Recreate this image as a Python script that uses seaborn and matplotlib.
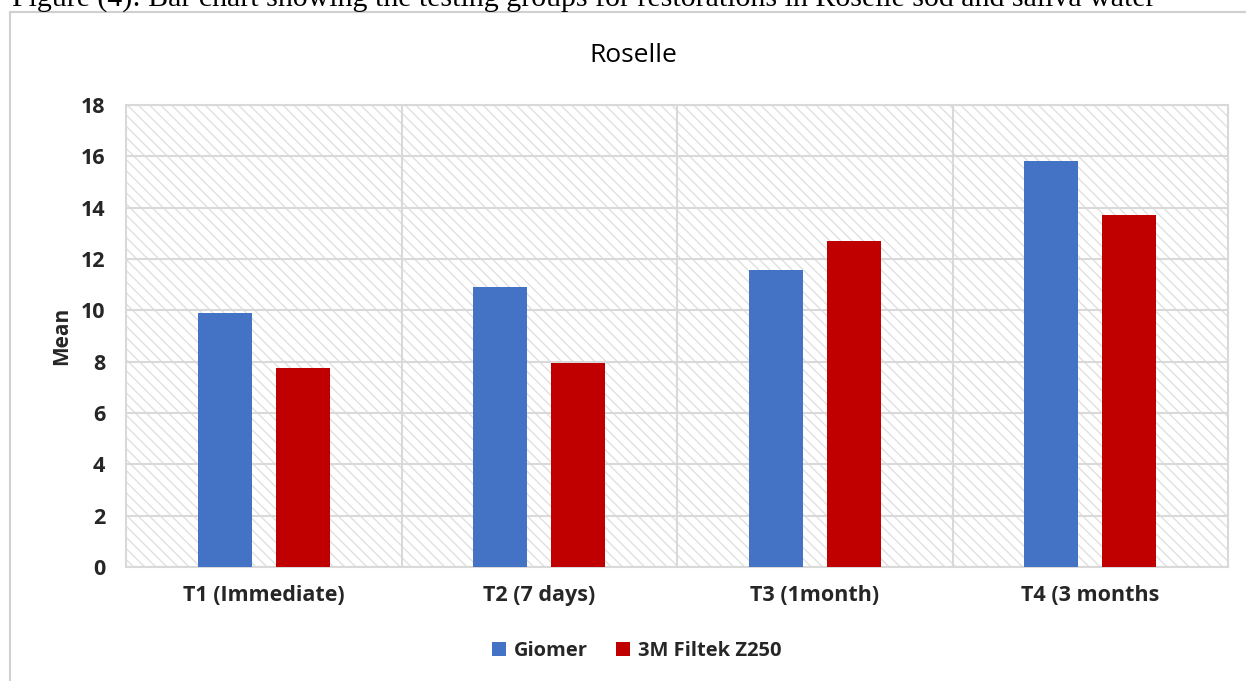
import matplotlib
matplotlib.use("Agg")
import matplotlib.pyplot as plt
from matplotlib.patches import Rectangle
import seaborn as sns
import pandas as pd

# Mean values per storage time for each restorative material (Roselle)
periods = ["T1 (Immediate)", "T2 (7 days)", "T3 (1month)", "T4 (3 months"]
materials = ["Giomer", "3M Filtek Z250"]
giomer = [9.9, 10.9, 11.57, 15.82]
filtek = [7.75, 7.95, 12.7, 13.71]
yticks = [0, 2, 4, 6, 8, 10, 12, 14, 16, 18]
caption = ("Figure (4): Bar chart showing the testing groups for restorations "
           "in Roselle sod and saliva water")

colors = {"Giomer": "#4472C4", "3M Filtek Z250": "#C00000"}
grid_col = "#d9d9d9"

df = pd.DataFrame({
    "period": periods * 2,
    "material": [materials[0]] * 4 + [materials[1]] * 4,
    "mean": giomer + filtek,
})

sns.set_theme(style="white")
plt.rcParams["font.family"] = ["Open Sans", "DejaVu Sans"]

fig = plt.figure(figsize=(12.46, 6.81), dpi=100)

# outer chart frame (runs off the right and bottom edges)
fig.patches.append(Rectangle((10 / 1246, -0.05), 1.2, 1 - 12 / 681 + 0.05,
                             transform=fig.transFigure, fill=False,
                             edgecolor="#d0d0d0", linewidth=1.5, zorder=0))

# caption line above the chart, mostly cut off at the top
fig.text(12 / 1246, 1 - 7 / 681, caption, ha="left", va="baseline",
         fontsize=21.5, family=["Liberation Serif"], color="black")

ax = fig.add_axes([126 / 1246, 1 - 567 / 681, 1102 / 1246, 462 / 681])

# hatched plot-area background
ax.add_patch(Rectangle((0, 0), 1, 1, transform=ax.transAxes,
                       facecolor="white", edgecolor="#e0e0e0",
                       hatch="\\\\\\", linewidth=0, zorder=0))

sns.barplot(data=df, x="period", y="mean", hue="material", order=periods,
            hue_order=materials, palette=colors, width=0.566, gap=0.307,
            saturation=1, ax=ax, zorder=3, legend=False)
for p in ax.patches[1:]:
    p.set_edgecolor("none")

ax.set_ylim(0, 18)
ax.set_xlim(-0.5, 3.5)
ax.set_yticks(yticks)
ax.set_yticklabels([str(v) for v in yticks], fontsize=15.5, fontweight="bold")
ax.set_xticks(range(len(periods)))
ax.set_xticklabels(periods, fontsize=15.5, fontweight="bold")
ax.set_xticks([0.5, 1.5, 2.5], minor=True)
ax.tick_params(axis="both", which="both", length=0)
ax.tick_params(axis="x", pad=13)
ax.tick_params(axis="y", pad=15)
ax.grid(axis="y", which="major", color=grid_col, linewidth=1.5, zorder=1)
ax.grid(axis="x", which="minor", color=grid_col, linewidth=1.5, zorder=1)
ax.grid(axis="x", which="major", visible=False)
ax.set_axisbelow(True)
for s in ax.spines.values():
    s.set_visible(True)
    s.set_color(grid_col)
    s.set_linewidth(1.5)

ax.set_xlabel("")
ax.set_ylabel("Mean", fontsize=15, fontweight="bold")
ax.yaxis.set_label_coords(-0.049, 0.5)

fig.text(633 / 1246, 1 - 55 / 681, "Roselle", ha="center", va="center",
         fontsize=19, color="black")

handles = [Rectangle((0, 0), 1, 1, facecolor=colors[m], edgecolor="none")
           for m in materials]
fig.legend(handles, materials, loc="center",
           bbox_to_anchor=(637 / 1246, 1 - 651 / 681), ncol=2, frameon=False,
           handlelength=0.7, handleheight=0.7, handletextpad=0.4,
           columnspacing=1.4, prop={"size": 14.5, "weight": "bold"})

fig.savefig("out.png", dpi=100)
